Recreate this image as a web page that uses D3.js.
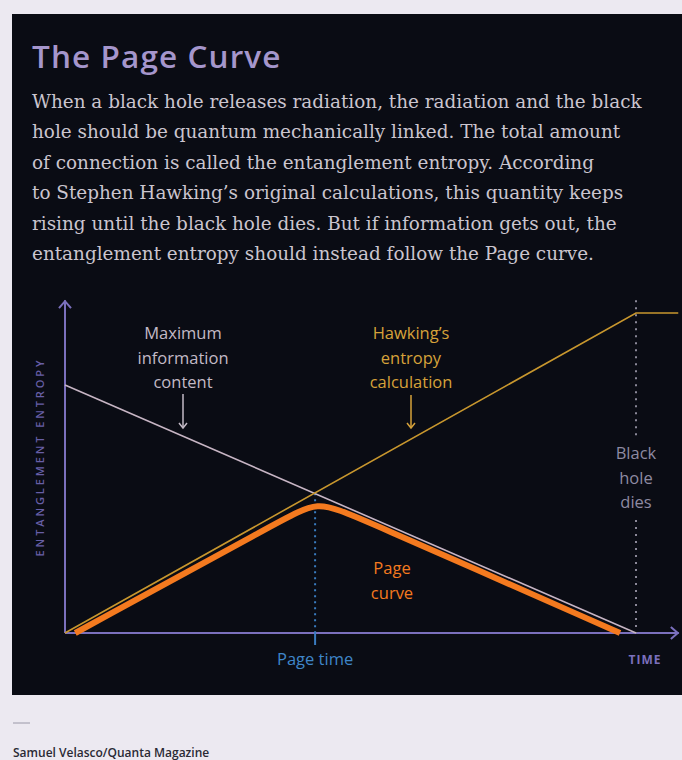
<!DOCTYPE html>
<html>
<head>
<meta charset="utf-8">
<script src="https://cdn.jsdelivr.net/npm/d3@7"></script>
<style>
  body { margin: 0; background: #ece9f1; }
  svg { display: block; }
</style>
</head>
<body>
<svg id="chart"></svg>
<script>
const title = 'The Page Curve';
const bodyLines = [
  'When a black hole releases radiation, the radiation and the black',
  'hole should be quantum mechanically linked. The total amount',
  'of connection is called the entanglement entropy. According',
  'to Stephen Hawking\u2019s original calculations, this quantity keeps',
  'rising until the black hole dies. But if information gets out, the',
  'entanglement entropy should instead follow the Page curve.'
];

// time 0..100 (100 = black hole dies), entropy 0..100
const hawking = [[0, 0], [100, 100], [107.4, 100]];
const maxInfo = [[0, 77.5], [100, 0]];
const pageCurve = [[1.8, 0], [38, 35.2], [44.2, 41.4], [50.5, 36.8], [97.2, 0]];
const pageTime = 43.8;
const blackHoleDies = 100;

const maxInfoLabel = ['Maximum', 'information', 'content'];
const hawkingLabel = ['Hawking\u2019s', 'entropy', 'calculation'];
const pageLabel = ['Page', 'curve'];
const dieLabel = ['Black', 'hole', 'dies'];

const W = 682, H = 760;
const sans = 'Open Sans';
const svg = d3.select('#chart').attr('width', W).attr('height', H);

// dark panel
svg.append('rect').attr('x', 12).attr('y', 14).attr('width', W - 12).attr('height', 681)
  .attr('fill', '#0a0c14');

svg.append('text').attr('x', 32).attr('y', 68)
  .attr('font-family', sans).attr('font-weight', 600).attr('font-size', 31.5)
  .attr('letter-spacing', 1.1).attr('fill', '#a596cc').text(title);

svg.append('g').selectAll('text').data(bodyLines).join('text')
  .attr('x', 32).attr('y', (d, i) => 108 + i * 30.4)
  .attr('font-family', 'DejaVu Serif').attr('font-size', 18.4)
  .attr('fill', '#cbc5cf').text(d => d);

const x = d3.scaleLinear().domain([0, 100]).range([65, 636]);
const y = d3.scaleLinear().domain([0, 100]).range([633, 313]);

const line = d3.line().x(d => x(d[0])).y(d => y(d[1]));
const axisColor = '#7b70bd';

// axes with arrowheads
const g = svg.append('g');
g.append('line').attr('x1', x(0)).attr('x2', x(0)).attr('y1', y(0)).attr('y2', y(104))
  .attr('stroke', axisColor).attr('stroke-width', 2);
g.append('path').attr('d', `M${x(0) - 6},${y(104) + 8}L${x(0)},${y(104) + 1}L${x(0) + 6},${y(104) + 8}`)
  .attr('fill', 'none').attr('stroke', axisColor).attr('stroke-width', 2);
g.append('line').attr('x1', x(0)).attr('x2', x(107.5)).attr('y1', y(0)).attr('y2', y(0))
  .attr('stroke', axisColor).attr('stroke-width', 2);
g.append('path').attr('d', `M${x(107.5) - 8},${y(0) - 6}L${x(107.5) - 1},${y(0)}L${x(107.5) - 8},${y(0) + 6}`)
  .attr('fill', 'none').attr('stroke', axisColor).attr('stroke-width', 2);

g.append('text').attr('transform', `translate(44,${y(55)}) rotate(-90)`)
  .attr('text-anchor', 'middle').attr('font-family', sans).attr('font-weight', 600)
  .attr('font-size', 11).attr('letter-spacing', 2.9).attr('fill', '#675fa6')
  .text('ENTANGLEMENT ENTROPY');
g.append('text').attr('x', 645).attr('y', 664).attr('text-anchor', 'middle')
  .attr('font-family', sans).attr('font-weight', 700).attr('font-size', 12)
  .attr('letter-spacing', 1).attr('fill', '#7b70bd').text('TIME');

// page time marker
const ptY = (100 * 77.5) / 177.5;
g.append('line').attr('x1', x(pageTime)).attr('x2', x(pageTime)).attr('y1', y(ptY)).attr('y2', y(0))
  .attr('stroke', '#3a7cc0').attr('stroke-width', 2).attr('stroke-dasharray', '2,4');
g.append('line').attr('x1', x(pageTime)).attr('x2', x(pageTime)).attr('y1', y(0)).attr('y2', y(0) + 12)
  .attr('stroke', '#3a7cc0').attr('stroke-width', 2);
g.append('text').attr('x', x(pageTime)).attr('y', 665).attr('text-anchor', 'middle')
  .attr('font-family', sans).attr('font-size', 16.5).attr('fill', '#3f86c9').text('Page time');

// black hole dies marker
const dieX = x(blackHoleDies);
[[y(104), 438], [520, y(0)]].forEach(([a, b]) => {
  g.append('line').attr('x1', dieX).attr('x2', dieX).attr('y1', a).attr('y2', b)
    .attr('stroke', '#8b8898').attr('stroke-width', 2).attr('stroke-dasharray', '2,5');
});
g.append('g').selectAll('text').data(dieLabel).join('text')
  .attr('x', dieX).attr('y', (d, i) => 459 + i * 24.5).attr('text-anchor', 'middle')
  .attr('font-family', sans).attr('font-size', 16.5).attr('fill', '#8e8aa2').text(d => d);

// curves
g.append('path').datum(maxInfo).attr('d', line).attr('fill', 'none')
  .attr('stroke', '#c7b5c4').attr('stroke-width', 1.6);
g.append('path').datum(hawking).attr('d', line).attr('fill', 'none')
  .attr('stroke', '#c8972e').attr('stroke-width', 1.6);
g.append('path').datum(pageCurve).attr('d', line.curve(d3.curveBasis)).attr('fill', 'none')
  .attr('stroke', '#f47a1f').attr('stroke-width', 6).attr('stroke-linejoin', 'round');

// annotations
function note(lines, cx, top, color, arrow) {
  const t = g.append('g');
  t.selectAll('text').data(lines).join('text')
    .attr('x', cx).attr('y', (d, i) => top + i * 24.5).attr('text-anchor', 'middle')
    .attr('font-family', sans).attr('font-size', 16.5).attr('fill', color).text(d => d);
  if (arrow) {
    t.append('line').attr('x1', cx).attr('x2', cx).attr('y1', arrow[0]).attr('y2', arrow[1])
      .attr('stroke', color).attr('stroke-width', 1.5);
    t.append('path').attr('d', `M${cx - 4},${arrow[1] - 5}L${cx},${arrow[1]}L${cx + 4},${arrow[1] - 5}`)
      .attr('fill', 'none').attr('stroke', color).attr('stroke-width', 1.5);
  }
}
note(maxInfoLabel, 183, 339, '#c3bac6', [394, 428]);
note(hawkingLabel, 411, 339, '#d6a23a', [395, 428]);
note(pageLabel, 392, 574, '#f47a1f');

// footer
svg.append('line').attr('x1', 13).attr('x2', 30).attr('y1', 723).attr('y2', 723)
  .attr('stroke', '#9a98a8').attr('stroke-width', 1);
svg.append('text').attr('x', 13).attr('y', 757)
  .attr('font-family', sans).attr('font-weight', 600).attr('font-size', 12).attr('fill', '#2a2a35')
  .text('Samuel Velasco/Quanta Magazine');
</script>
</body>
</html>
